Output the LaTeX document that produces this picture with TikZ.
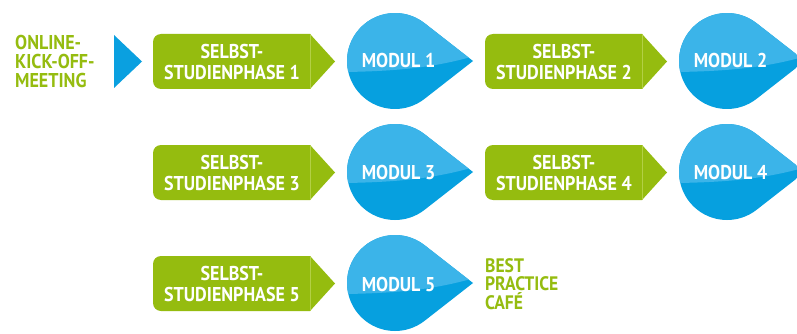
\documentclass[tikz,border=0pt]{standalone}
\usepackage{fontspec}
\setmainfont{PT Sans}[FakeStretch=0.9]
\usetikzlibrary{calc}
\definecolor{grn}{HTML}{95BC0F}
\definecolor{grnline}{HTML}{B3D045}
\definecolor{bluelight}{HTML}{3BB4E9}
\definecolor{bluedark}{HTML}{06A0DF}
\definecolor{bluetri}{HTML}{0AA0E0}
\tikzset{
  lbl/.style={font=\bfseries\fontsize{20}{20.5}\selectfont, text=white, align=center, inner sep=0pt},
  grntxt/.style={font=\bfseries\fontsize{20}{19}\selectfont, text=grn, align=left, inner sep=0pt, anchor=west},
  cafetxt/.style={grntxt, font=\bfseries\fontsize{19.5}{18.5}\selectfont},
}
% #1 left x, #2 centre y
\newcommand\phasebox[2]{%
  \fill[grn] (#1+157,#2-27.5) -- (#1+182,#2) -- (#1+157,#2+27.5) -- (#1+8,#2+27.5)
    arc[start angle=90,end angle=180,radius=8] -- (#1,#2-19.5)
    arc[start angle=180,end angle=270,radius=8] -- cycle;
  \draw[grnline, line width=0.6pt] (#1+157,#2+27.5) -- (#1+157,#2-27.5);
}
% #1 centre x, #2 centre y
\newcommand\modulshape[2]{%
  \begin{scope}
    \clip (#1+78,#2) -- ($(#1,#2)+(52:48)$) arc[start angle=52,end angle=308,radius=48] -- cycle;
    \fill[bluedark] (#1-50,#2-50) rectangle (#1+80,#2+50);
    \fill[bluelight] (#1-50,#2-11) .. controls (#1+20,#2-10) and (#1+50,#2-3) .. (#1+80,#2+5)
      -- (#1+80,#2+50) -- (#1-50,#2+50) -- cycle;
  \end{scope}
}
\begin{document}
\begin{tikzpicture}[x=1pt,y=1pt]
\useasboundingbox (0,0) rectangle (797,-334);
\fill[white] (0,0) rectangle (797,-334);
\clip (0,0) rectangle (797,-334);

% kick-off
\node[grntxt] (kick) at (15,-62) {ONLINE-\\KICK-OFF-\\MEETING};
\fill[bluetri] (114,-35) -- (142,-61.5) -- (114,-88) -- cycle;

% row 1
\phasebox{153}{-61.5}
\node[lbl] (s1) at (232,-62) {SELBST-\\STUDIENPHASE 1};
\modulshape{395}{-61}
\node[lbl] (m1) at (398.5,-61) {MODUL 1};
\phasebox{485}{-61.5}
\node[lbl] (s2) at (564,-62) {SELBST-\\STUDIENPHASE 2};
\modulshape{727}{-61}
\node[lbl] (m2) at (730.5,-61) {MODUL 2};

% row 2
\phasebox{153}{-172.5}
\node[lbl] (s3) at (232,-173) {SELBST-\\STUDIENPHASE 3};
\modulshape{395}{-172}
\node[lbl] (m3) at (398.5,-172) {MODUL 3};
\phasebox{485}{-172.5}
\node[lbl] (s4) at (564,-173) {SELBST-\\STUDIENPHASE 4};
\modulshape{727}{-172}
\node[lbl] (m4) at (730.5,-172) {MODUL 4};

% row 3
\phasebox{153}{-283.5}
\node[lbl] (s5) at (232,-284) {SELBST-\\STUDIENPHASE 5};
\modulshape{395}{-283}
\node[lbl] (m5) at (398.5,-284) {MODUL 5};
\node[cafetxt] (cafe) at (485,-284) {BEST\\PRACTICE\\CAFÉ};
\end{tikzpicture}
\end{document}
